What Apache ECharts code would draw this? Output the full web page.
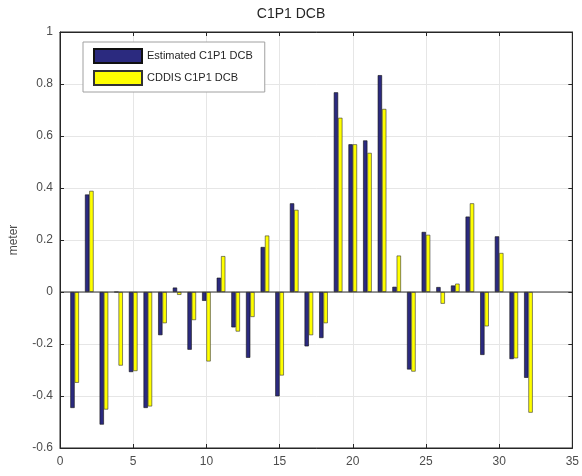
<!DOCTYPE html>
<html>
<head>
<meta charset="utf-8">
<style>html,body{margin:0;padding:0;background:#fff;}#c{width:582px;height:476px;}</style>
<script src="https://cdn.jsdelivr.net/npm/echarts@6/dist/echarts.min.js"></script>
</head>
<body>
<div id="c"></div>
<script>
const prn = [1,2,3,4,5,6,7,8,9,10,11,12,13,14,15,16,17,18,19,20,21,22,23,24,25,26,27,28,29,30,31,32];
const estimated = [-0.446,0.375,-0.51,0,-0.308,-0.446,-0.166,0.017,-0.222,-0.034,0.055,-0.136,-0.253,0.173,-0.401,0.341,-0.209,-0.177,0.768,0.568,0.583,0.834,0.02,-0.298,0.231,0.019,0.025,0.29,-0.242,0.214,-0.258,-0.33];
const cddis = [-0.349,0.389,-0.452,-0.283,-0.304,-0.44,-0.12,-0.011,-0.108,-0.267,0.138,-0.152,-0.096,0.217,-0.321,0.316,-0.166,-0.12,0.67,0.568,0.535,0.704,0.14,-0.306,0.22,-0.045,0.032,0.341,-0.132,0.15,-0.255,-0.464];
const seriesNames = ['Estimated C1P1 DCB','CDDIS C1P1 DCB'];

const chart = echarts.init(document.getElementById('c'), null, {renderer:'canvas'});
const font = 'Liberation Sans, Arial, sans-serif';
const axisCol = '#262626';
const labCol = '#4d4d4d';
chart.setOption({
  animation:false,
  backgroundColor:'#fff',
  title:{text:'C1P1 DCB',left:'center',top:2,textStyle:{fontFamily:font,fontSize:14,fontWeight:'normal',color:'#262626'}},
  grid:{left:54,right:4,top:32,bottom:28,show:true,borderColor:axisCol,borderWidth:1},
  legend:{
    orient:'vertical',left:83,top:42,
    icon:'rect',
    itemWidth:48,itemHeight:14,itemGap:6,
    padding:[6,12,6,10],
    backgroundColor:'#fff',borderColor:'#a0a0a0',borderWidth:1,
    textStyle:{fontFamily:font,fontSize:11,color:'#262626'},
    data:seriesNames
  },
  xAxis:[{
    type:'value',min:0,max:35,interval:5,position:'bottom',
    axisLine:{show:true,onZero:false,lineStyle:{color:axisCol}},
    axisTick:{show:true,inside:true,length:4,lineStyle:{color:axisCol}},
    axisLabel:{fontFamily:font,fontSize:12,color:labCol,margin:8},
    splitLine:{show:true,lineStyle:{color:'#e6e6e6',width:1}}
  },{
    type:'value',min:0,max:35,interval:5,position:'top',
    axisLine:{show:true,onZero:false,lineStyle:{color:axisCol}},
    axisTick:{show:true,inside:true,length:4,lineStyle:{color:axisCol}},
    axisLabel:{show:false},splitLine:{show:false}
  }],
  yAxis:[{
    type:'value',min:-0.6,max:1,interval:0.2,position:'left',
    name:'meter',nameLocation:'middle',nameGap:40,
    nameTextStyle:{fontFamily:font,fontSize:12,color:labCol},
    axisLine:{show:true,onZero:false,lineStyle:{color:axisCol}},
    axisTick:{show:true,inside:true,length:4,lineStyle:{color:axisCol}},
    axisLabel:{fontFamily:font,fontSize:12,color:labCol,margin:7,
      formatter:v=>{const r=Math.round(v*10)/10;return String(r);}},
    splitLine:{show:true,lineStyle:{color:'#e6e6e6',width:1}}
  },{
    type:'value',min:-0.6,max:1,interval:0.2,position:'right',
    axisLine:{show:true,onZero:false,lineStyle:{color:axisCol}},
    axisTick:{show:true,inside:true,length:4,lineStyle:{color:axisCol}},
    axisLabel:{show:false},splitLine:{show:false}
  }],
  series:[{
    name:seriesNames[0],type:'bar',xAxisIndex:0,yAxisIndex:0,
    barWidth:4.3,barGap:'0%',
    itemStyle:{color:'#2b2a7f',borderColor:'#111',borderWidth:0.6},
    data:prn.map((p,i)=>[p,estimated[i]])
  },{
    name:seriesNames[1],type:'bar',xAxisIndex:0,yAxisIndex:0,
    barWidth:4.3,barGap:'0%',
    itemStyle:{color:'#ffff00',borderColor:'#333',borderWidth:0.6},
    data:prn.map((p,i)=>[p,cddis[i]])
  },{
    type:'line',xAxisIndex:0,yAxisIndex:0,silent:true,symbol:'none',
    data:[[0,0],[35,0]],lineStyle:{color:'#333',width:1}
  }]
});
</script>
</body>
</html>
